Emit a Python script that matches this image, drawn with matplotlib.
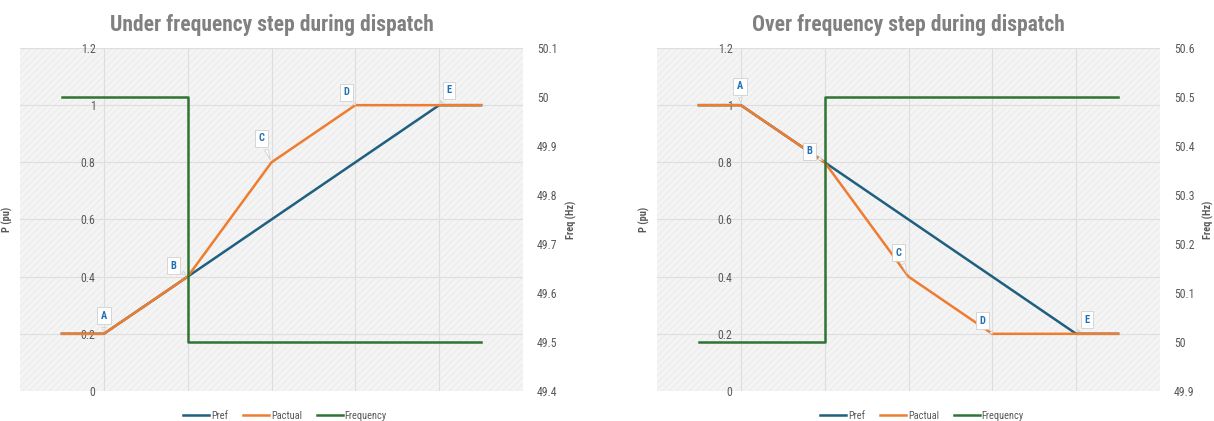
import matplotlib
matplotlib.use("Agg")
import matplotlib.pyplot as plt
from matplotlib import font_manager
from matplotlib.patches import Rectangle
from matplotlib.lines import Line2D

# pick a narrow-ish font if installed
names = set(f.name for f in font_manager.fontManager.ttflist)
font = "DejaVu Sans"
for cand in ["Liberation Sans Narrow", "Roboto Condensed", "Roboto", "Liberation Sans"]:
    if cand in names:
        font = cand
        break
plt.rcParams['font.family'] = [font, 'DejaVu Sans']
plt.rcParams['hatch.linewidth'] = 0.5

# data
x_pts = [0.5, 1, 2, 3, 4, 5, 5.5]
point_labels = ["A", "B", "C", "D", "E"]
freq_x = [0.5, 2, 2, 5.5]

under_pref = [0.2, 0.2, 0.4, 0.6, 0.8, 1.0, 1.0]
under_pactual = [0.2, 0.2, 0.4, 0.8, 1.0, 1.0, 1.0]
under_freq = [50.0, 50.0, 49.5, 49.5]

over_pref = [1.0, 1.0, 0.8, 0.6, 0.4, 0.2, 0.2]
over_pactual = [1.0, 1.0, 0.8, 0.4, 0.2, 0.2, 0.2]
over_freq = [50.0, 50.0, 50.5, 50.5]

p_ticks = [0, 0.2, 0.4, 0.6, 0.8, 1.0, 1.2]
p_ticklabels = ["0", "0.2", "0.4", "0.6", "0.8", "1", "1.2"]
under_f_ticks = [49.4, 49.5, 49.6, 49.7, 49.8, 49.9, 50.0, 50.1]
over_f_ticks = [49.9, 50.0, 50.1, 50.2, 50.3, 50.4, 50.5, 50.6]

# callout offsets in pixels
under_offsets = [(0, 18), (-14, 11), (-10, 24), (-9, 13), (10, 15)]
over_offsets = [(-1, 19), (-15, 11), (-10, 24), (-10, 13), (11, 14)]

c_pref = "#1f5f7f"
c_pact = "#ed7d31"
c_freq = "#2e7532"
c_text = "#595959"
c_grid = "#dedede"

fig = plt.figure(figsize=(12.14, 4.21), dpi=100)


def draw_panel(rect, title, pref, pact, freq, f_ticks, offsets, legend_x):
    ax = fig.add_axes(rect)
    ax.set_xlim(0, 6)
    ax.set_ylim(0, 1.2)
    ax.set_facecolor("#f4f4f4")
    bg = Rectangle((0, 0), 1, 1, transform=ax.transAxes, facecolor="none",
                   edgecolor="#e8e8e8", hatch="/////", linewidth=0, zorder=0)
    ax.add_patch(bg)
    for s in ax.spines.values():
        s.set_visible(False)
    ax.spines['left'].set_position(('data', 1))
    ax.set_yticks(p_ticks)
    ax.set_yticklabels(p_ticklabels)
    ax.set_xticks([1, 2, 3, 4, 5])
    ax.set_xticklabels([])
    ax.tick_params(axis='both', length=0, labelsize=8.5, labelcolor=c_text)
    ax.tick_params(axis='y', pad=6)
    ax.grid(True, color=c_grid, linewidth=0.8)
    ax.set_axisbelow(True)

    ax.plot(x_pts, pref, color=c_pref, linewidth=1.8, zorder=3)
    ax.plot(x_pts, pact, color=c_pact, linewidth=1.8, zorder=4)

    ax.set_ylabel("P (pu)", fontsize=7.5, fontweight="bold", color=c_text)
    ax.yaxis.set_label_coords(-0.014, 0.5)

    for i, lab in enumerate(point_labels):
        ax.annotate(lab, xy=(x_pts[i + 1], pact[i + 1]), xytext=offsets[i],
                    textcoords="offset pixels", ha="center", va="center",
                    fontsize=7.5, fontweight="bold", color="#1f6fb5", zorder=6,
                    bbox=dict(boxstyle="square,pad=0.35", fc="white", ec="#d0d0d0", lw=0.6),
                    arrowprops=dict(arrowstyle="wedge,tail_width=0.35,shrink_factor=0.5",
                                    fc="white", ec="#d0d0d0", lw=0.6))

    ax2 = ax.twinx()
    ax2.set_ylim(f_ticks[0], f_ticks[-1])
    ax2.set_yticks(f_ticks)
    ax2.set_yticklabels([("%g" % v) for v in f_ticks])
    for s in ax2.spines.values():
        s.set_visible(False)
    ax2.tick_params(axis='y', length=0, labelsize=8.5, labelcolor=c_text, pad=10)
    ax2.plot(freq_x, freq, color=c_freq, linewidth=1.8, zorder=5)
    ax2.set_ylabel("Freq (Hz)", fontsize=7.5, fontweight="bold", color=c_text, rotation=90)
    ax2.yaxis.set_label_coords(1.085, 0.5)

    ax.set_title(title, fontsize=15.5, fontweight="bold", color="#808080", pad=12)

    handles = [Line2D([], [], color=c_pref, lw=1.8),
               Line2D([], [], color=c_pact, lw=1.8),
               Line2D([], [], color=c_freq, lw=1.8)]
    fig.legend(handles, ["Pref", "Pactual", "Frequency"], loc="center",
               bbox_to_anchor=(legend_x, 1 - 416 / 421), ncol=3, frameon=False,
               fontsize=7.5, labelcolor=c_text, handlelength=2.5, handletextpad=0.2,
               columnspacing=1.4)


draw_panel([20 / 1214, 0.0713, 503 / 1214, 0.8147], "Under frequency step during dispatch",
           under_pref, under_pactual, under_freq, under_f_ticks, under_offsets, 285 / 1214)
draw_panel([657 / 1214, 0.0713, 503 / 1214, 0.8147], "Over frequency step during dispatch",
           over_pref, over_pactual, over_freq, over_f_ticks, over_offsets, 922 / 1214)

fig.savefig("out.png", dpi=100)
